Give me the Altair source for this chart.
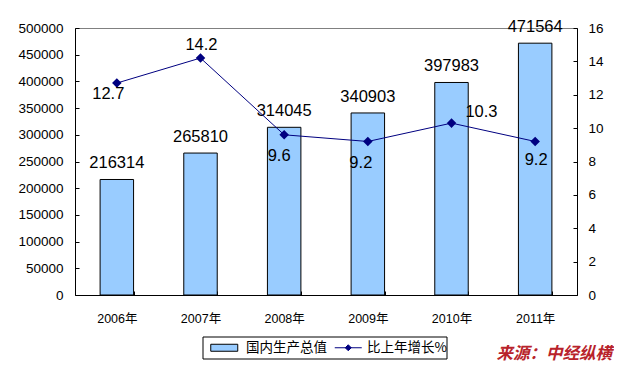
import altair as alt
import pandas as pd

years = ["2006年", "2007年", "2008年", "2009年", "2010年", "2011年"]
gdp = [216314, 265810, 314045, 340903, 397983, 471564]
growth = [12.7, 14.2, 9.6, 9.2, 10.3, 9.2]
series_bar = ["国内生产总值"]
series_line = ["比上年增长%"]
left_ticks = list(range(0, 500001, 50000))
right_ticks = list(range(0, 17, 2))
source_text = "来源：中经纵横"

# label offsets (pixels) for the growth-rate labels
growth_label_dx = [-8.5, 1, -5, -7, 30, 1]
growth_label_dy = [16, -8, 26, 27, -6, 24]

df = pd.DataFrame({"year": years, "gdp": gdp, "growth": growth})

FONT = "Liberation Sans, Arial, Noto Sans CJK SC"
CJK = "Noto Sans CJK SC"
BAR = "#99CCFF"
NAVY = "#000080"

x = alt.X(
    "year:N", sort=years, title=None,
    scale=alt.Scale(paddingInner=0.6, paddingOuter=0.3),
    axis=alt.Axis(labelAngle=0, tickBand="extent", tickSize={"expr": "-4"},
                  labelPadding=21, labelFont=FONT, labelFontSize=12.5,
                  domainColor="black", tickColor="black", labelColor="black"),
)

fill = alt.Fill(
    "s:N",
    scale=alt.Scale(domain=series_bar, range=[BAR]),
    legend=alt.Legend(
        title=None, orient="none", legendX=142.5, legendY=313,
        direction="horizontal", padding=0, labelFont=CJK, labelFontSize=13.5,
        labelColor="black", symbolSize=100, symbolOffset=0, labelOffset=15,
        symbolType="M-2.7,-0.7H2.7V0.7H-2.7Z", symbolStrokeColor="black",
        symbolStrokeWidth=1, symbolOpacity=1,
    ),
)

stroke = alt.Stroke(
    "s:N",
    scale=alt.Scale(domain=series_line, range=[NAVY]),
    legend=alt.Legend(
        title=None, orient="none", legendX=266.5, legendY=313,
        direction="horizontal", padding=0, labelFont=CJK, labelFontSize=13.5,
        labelColor="black", symbolSize=100, symbolOffset=0, labelOffset=12,
        symbolType="M-2.7,0H2.7M-0.6,0L0,-0.6L0.6,0L0,0.6Z",
        symbolFillColor=NAVY, symbolStrokeWidth=1, symbolOpacity=1,
    ),
)

y_left = alt.Y(
    "gdp:Q", title=None,
    scale=alt.Scale(domain=[0, 500000], nice=False),
    axis=alt.Axis(orient="left", values=left_ticks, format="d", grid=False,
                  tickSize={"expr": "-4"}, labelPadding=16, labelFont=FONT,
                  labelFontSize=13.5, domainColor="black", tickColor="black",
                  labelColor="black"),
)
y_right = alt.Y(
    "growth:Q", title=None,
    scale=alt.Scale(domain=[0, 16], nice=False),
    axis=alt.Axis(orient="right", values=right_ticks, format="d", grid=False,
                  tickSize={"expr": "-4"}, labelPadding=15, labelFont=FONT,
                  labelFontSize=13.5, domainColor="black", tickColor="black",
                  labelColor="black"),
)

base = alt.Chart(df)

bars = base.transform_calculate(s="'国内生产总值'").mark_bar(
    stroke="black", strokeWidth=1
).encode(x=x, y=y_left, fill=fill)

bar_text = base.mark_text(
    dy=-11, baseline="alphabetic", fontSize=16.5, font=FONT, color="black"
).encode(
    x=x,
    y=alt.Y("gdp:Q", scale=alt.Scale(domain=[0, 500000], nice=False), axis=None),
    text=alt.Text("gdp:Q", format="d"),
)

line = base.transform_calculate(s="'比上年增长%'").mark_line(
    strokeWidth=1,
    point=alt.OverlayMarkDef(shape="diamond", filled=True, size=45, fill=NAVY),
).encode(x=x, y=y_right, stroke=stroke)

line_texts = []
for yr, ddx, ddy in zip(years, growth_label_dx, growth_label_dy):
    line_texts.append(
        base.transform_filter(alt.datum.year == yr).mark_text(
            baseline="alphabetic", fontSize=16.5, font=FONT, color="black",
            dx=ddx, dy=ddy,
        ).encode(
            x=x,
            y=alt.Y("growth:Q", scale=alt.Scale(domain=[0, 16], nice=False), axis=None),
            text=alt.Text("growth:Q", format=".1f"),
        )
    )

# frame around the two legend entries
legend_frame = alt.Chart(pd.DataFrame({"k": [0]})).mark_rect(
    fill="white", stroke="black", strokeWidth=1
).encode(
    x=alt.value(128), x2=alt.value(372), y=alt.value(309), y2=alt.value(331)
)

chart = alt.layer(bars, bar_text, line, *line_texts, legend_frame).resolve_scale(
    y="independent"
).properties(
    width=502, height=267,
    autosize=alt.AutoSizeParams(type="none"),
    padding={"left": 67, "top": 20, "right": 37, "bottom": 67},
    title=alt.TitleParams(
        source_text, orient="bottom", anchor="end", frame="group",
        color="#B8232B", fontSize=16.5, font=CJK, fontWeight="bold",
        fontStyle="italic", dx=35, dy=-20, offset=6, baseline="top",
    ),
).configure_view(stroke="#808080", strokeWidth=1).configure_axis(grid=False)

chart.save("out.html", embed_options={"renderer": "svg", "actions": False})
